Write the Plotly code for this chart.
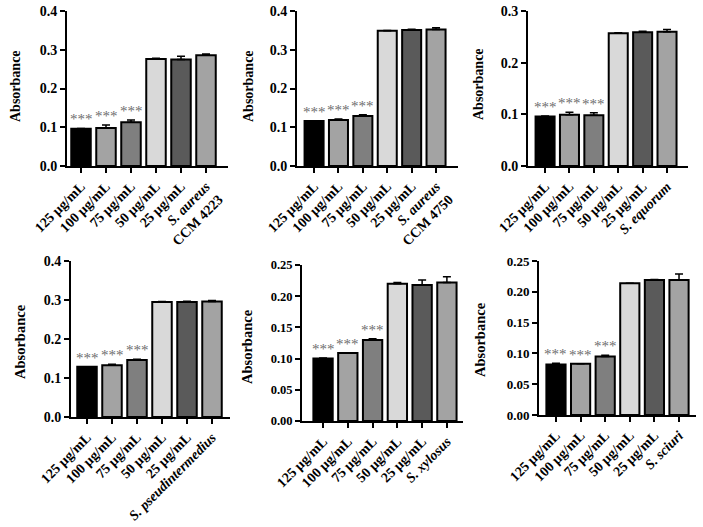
import plotly.graph_objects as go

# ---------------- data ----------------
conc_labels = ["125 μg/mL", "100 μg/mL", "75 μg/mL", "50 μg/mL", "25 μg/mL"]
control_labels = [
    "<i>S. aureus</i><br>CCM 4223",
    "<i>S. aureus</i><br>CCM 4750",
    "<i>S. equorum</i>",
    "<i>S. pseudintermedius</i>",
    "<i>S. xylosus</i>",
    "<i>S. sciuri</i>",
]

vals_aureus4223 = [0.096, 0.098, 0.113, 0.276, 0.275, 0.286]
err_aureus4223 = [0.001, 0.008, 0.006, 0.002, 0.008, 0.003]

vals_aureus4750 = [0.116, 0.119, 0.129, 0.349, 0.351, 0.352]
err_aureus4750 = [0.001, 0.002, 0.003, 0.001, 0.002, 0.005]

vals_equorum = [0.096, 0.099, 0.098, 0.257, 0.259, 0.260]
err_equorum = [0.001, 0.005, 0.005, 0.001, 0.002, 0.004]

vals_pseud = [0.129, 0.133, 0.146, 0.295, 0.295, 0.296]
err_pseud = [0.000, 0.002, 0.002, 0.001, 0.002, 0.003]

vals_xylosus = [0.100, 0.109, 0.130, 0.220, 0.218, 0.222]
err_xylosus = [0.001, 0.000, 0.002, 0.002, 0.008, 0.009]

vals_sciuri = [0.082, 0.083, 0.095, 0.214, 0.219, 0.219]
err_sciuri = [0.002, 0.000, 0.002, 0.000, 0.001, 0.010]

significance = ["***", "***", "***", "", "", ""]

y_max = [0.4, 0.4, 0.3, 0.4, 0.25, 0.25]
y_dtick = [0.1, 0.1, 0.1, 0.1, 0.05, 0.05]
y_fmt = [".1f", ".1f", ".1f", ".1f", ".2f", ".2f"]

bar_colors = ["#000000", "#a3a3a3", "#7f7f7f", "#d9d9d9", "#5a5a5a", "#a3a3a3"]

panels = [
    (vals_aureus4223, err_aureus4223, control_labels[0]),
    (vals_aureus4750, err_aureus4750, control_labels[1]),
    (vals_equorum, err_equorum, control_labels[2]),
    (vals_pseud, err_pseud, control_labels[3]),
    (vals_xylosus, err_xylosus, control_labels[4]),
    (vals_sciuri, err_sciuri, control_labels[5]),
]

# ---------------- layout geometry (pixels) ----------------
W, H = 703, 527
# (axis_left_px, axis_right_px, top_px, bottom_px, x_range)
geom = [
    (67, 228, 11, 166, [-0.56, 5.88]),
    (297, 458, 11, 166, [-0.70, 5.90]),
    (528, 688, 11, 166, [-0.70, 5.86]),
    (71, 230, 261, 417, [-0.64, 5.72]),
    (302, 463, 265, 421, [-0.85, 5.65]),
    (539, 696, 261, 415, [-0.69, 5.69]),
]
title_x_px = [15, 248, 478, 20, 247, 480]
title_y_px = [86, 86, 84, 342, 347, 339]
title_size = [14, 14, 14, 14.5, 14.5, 14.5]
ytick_size = [14, 14, 14, 14, 12.5, 13]

FONT = "Liberation Serif, Times New Roman, serif"
fig = go.Figure()
annotations = []
x_idx = list(range(6))

for i, ((vals, errs, ctl), (xl, xr, yt, yb, xr_range)) in enumerate(zip(panels, geom)):
    n = "" if i == 0 else str(i + 1)
    xa, ya = "x" + n, "y" + n
    fig.add_trace(go.Bar(
        x=x_idx, y=vals, xaxis=xa, yaxis=ya, width=0.78,
        marker=dict(color=bar_colors, line=dict(color="black", width=2)),
        error_y=dict(type="data", array=errs, arrayminus=[0] * 6, symmetric=False,
                     color="black", thickness=1.5, width=4),
        showlegend=False,
    ))
    ticktext = ["<b>" + t + "</b>" for t in conc_labels + [ctl]]
    fig.layout["xaxis" + n] = dict(
        domain=[xl / W, xr / W], anchor=ya, range=xr_range, automargin=False,
        tickmode="array", tickvals=x_idx, ticktext=ticktext, tickangle=-45,
        showline=True, linecolor="black", linewidth=2,
        ticks="outside", ticklen=5, tickwidth=2, tickcolor="black",
        showgrid=False, zeroline=False,
        tickfont=dict(family=FONT, size=14, color="black"),
    )
    fig.layout["yaxis" + n] = dict(
        domain=[1 - yb / H, 1 - yt / H], anchor=xa, range=[0, y_max[i]],
        dtick=y_dtick[i], tick0=0, tickformat=y_fmt[i], automargin=False,
        tickprefix="<b>", ticksuffix="</b>",
        showline=True, linecolor="black", linewidth=2,
        ticks="outside", ticklen=5, tickwidth=2, tickcolor="black",
        showgrid=False, zeroline=False,
        tickfont=dict(family=FONT, size=ytick_size[i], color="black"),
    )
    annotations.append(dict(
        text="<b>Absorbance</b>", xref="paper", yref="paper",
        x=title_x_px[i] / W, y=1 - title_y_px[i] / H, textangle=-90,
        showarrow=False, xanchor="center", yanchor="middle",
        font=dict(family=FONT, size=title_size[i], color="black"),
    ))
    for j in range(6):
        if significance[j]:
            annotations.append(dict(
                text=significance[j], xref=xa, yref=ya,
                x=j, y=vals[j] + errs[j], showarrow=False,
                xanchor="center", yanchor="bottom", yshift=-1,
                font=dict(family=FONT, size=15, color="#6e6e6e"),
            ))

fig.update_layout(
    width=W, height=H,
    margin=dict(l=0, r=0, t=0, b=0, pad=0, autoexpand=False),
    paper_bgcolor="white", plot_bgcolor="white",
    annotations=annotations, bargap=0.2,
)
fig.write_html("out.html")
